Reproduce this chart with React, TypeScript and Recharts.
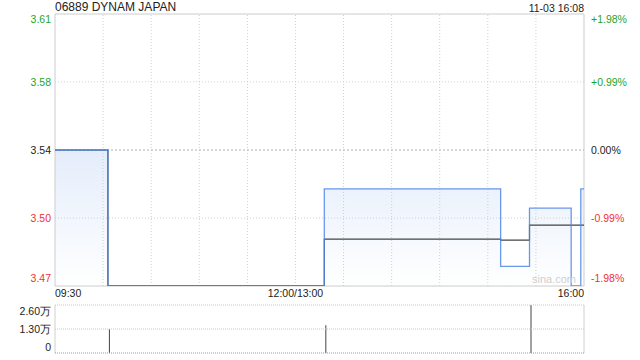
import { ComposedChart, Area, Line, XAxis, YAxis, ReferenceLine, ReferenceArea, BarChart, Bar } from "recharts"

// trading minutes since 09:30 (lunch break removed), 330 = 16:00
const minutes = [0, 33, 168, 278, 296, 322, 328, 330]
const prices = [3.54, 3.47, 3.52, 3.48, 3.51, 3.47, 3.52, 3.52]
const avgPrices = [3.54, 3.47, 3.4941, 3.4935, 3.5013, 3.5013, 3.5013, 3.5013]

const volMinutes = [34, 169, 297]
const volumes = [13000, 15000, 26000]

const priceTicks = [3.4699, 3.5049, 3.54, 3.5751, 3.6101]
const priceLabels = ["3.47", "3.50", "3.54", "3.58", "3.61"]
const pctLabels = ["-1.98%", "-0.99%", "0.00%", "+0.99%", "+1.98%"]
const gridMinutes = [30, 60, 90, 120, 150, 180, 210, 240, 270, 300]
const timeTicks = [0, 150, 330]
const timeLabels = ["09:30", "12:00/13:00", "16:00"]
const volTicks = [0, 13000, 26000]
const volLabels = ["0", "1.30万", "2.60万"]

const W = 640
const LEFT = 55
const RIGHT = 584
const FONT = "'Liberation Sans', Arial, sans-serif"
const GREEN = "#1fa51f"
const RED = "#f23030"

const priceData = minutes.map((t, i) => ({ t, price: prices[i], avg: avgPrices[i] }))
const volData = volMinutes.map((t, i) => ({ t, vol: volumes[i] }))

function tickColor(i: number) {
  if (i === 2) return "#222"
  return i > 2 ? GREEN : RED
}

function PriceTick(props: any) {
  const { y, payload } = props
  const i = priceTicks.indexOf(payload.value)
  // keep edge labels inside the plot box
  const dy = i === 4 ? 9 : i === 0 ? -4 : 4
  return (
    <g>
      <text x={LEFT - 4} y={y + dy} textAnchor="end" fontSize={10.5} fill={tickColor(i)} fontFamily={FONT}>
        {priceLabels[i]}
      </text>
      <text x={RIGHT + 7} y={y + dy} textAnchor="start" fontSize={10.5} fill={tickColor(i)} fontFamily={FONT}>
        {pctLabels[i]}
      </text>
    </g>
  )
}

function TimeTick(props: any) {
  const { x, y, payload } = props
  const i = timeTicks.indexOf(payload.value)
  const anchor = i === 0 ? "start" : i === 2 ? "end" : "middle"
  return (
    <text x={x} y={y + 11} textAnchor={anchor} fontSize={10.5} fill="#222" fontFamily={FONT}>
      {timeLabels[i]}
    </text>
  )
}

function VolTick(props: any) {
  const { y, payload } = props
  const i = volTicks.indexOf(payload.value)
  const dy = i === 2 ? 10 : i === 0 ? -2 : 4
  return (
    <text x={LEFT - 4} y={y + dy} textAnchor="end" fontSize={10.5} fill="#222" fontFamily={FONT}>
      {volLabels[i]}
    </text>
  )
}

export default function App() {
  return (
    <div style={{ position: "absolute", left: 0, top: 0, width: W, height: 360, background: "#fff", fontFamily: FONT }}>
      <div style={{ position: "absolute", left: LEFT, top: 0, fontSize: 12, color: "#222", lineHeight: "14px" }}>
        06889 DYNAM JAPAN
      </div>
      <div style={{ position: "absolute", right: W - RIGHT, top: 1, fontSize: 10.5, color: "#222", lineHeight: "14px" }}>
        11-03 16:08
      </div>

      <div style={{ position: "absolute", left: 0, top: 0 }}>
        <ComposedChart width={W} height={300} data={priceData} margin={{ top: 14, right: W - RIGHT, bottom: 0, left: 0 }}>
          <defs>
            <linearGradient id="priceFill" x1="0" y1="0" x2="0" y2="1">
              <stop offset="0%" stopColor="#e4edfb" />
              <stop offset="100%" stopColor="#ffffff" />
            </linearGradient>
          </defs>
          <XAxis dataKey="t" type="number" domain={[0, 330]} ticks={timeTicks} height={14}
            axisLine={false} tickLine={false} tickSize={0} tickMargin={0} tick={<TimeTick />} interval={0} />
          <YAxis type="number" domain={[priceTicks[0], priceTicks[4]]} ticks={priceTicks} width={LEFT}
            axisLine={false} tickLine={false} tick={<PriceTick />} interval={0} allowDataOverflow />
          {gridMinutes.map((m) => (
            <ReferenceLine key={m} x={m} stroke="#d0d0d0" strokeDasharray="1 2" />
          ))}
          <ReferenceLine y={priceTicks[1]} stroke="#d0d0d0" strokeDasharray="1 2" />
          <ReferenceLine y={priceTicks[3]} stroke="#d0d0d0" strokeDasharray="1 2" />
          <ReferenceLine y={priceTicks[2]} stroke="#b0b0b0" strokeDasharray="2 2" />
          <Area dataKey="price" type="stepAfter" stroke="none" fill="url(#priceFill)" fillOpacity={1}
            isAnimationActive={false} dot={false} activeDot={false} />
          <Line dataKey="avg" type="stepAfter" stroke="#444" strokeWidth={1.2} dot={false} activeDot={false}
            isAnimationActive={false} />
          <Line dataKey="price" type="stepAfter" stroke="#4f86e8" strokeOpacity={0.85} strokeWidth={1.3} dot={false}
            activeDot={false} isAnimationActive={false} />
          <ReferenceArea x1={0} x2={330} y1={priceTicks[0]} y2={priceTicks[4]} fill="none" stroke="#cccccc"
            ifOverflow="visible" />
        </ComposedChart>
      </div>

      <div style={{ position: "absolute", left: 532, top: 272, fontSize: 11, color: "#cfcfcf", lineHeight: "14px" }}>
        sina.com
      </div>

      <div style={{ position: "absolute", left: 0, top: 300 }}>
        <BarChart width={W} height={60} data={volData} margin={{ top: 5, right: W - RIGHT, bottom: 7, left: 0 }}>
          <XAxis dataKey="t" type="number" domain={[0, 330]} hide />
          <YAxis type="number" domain={[0, 26000]} ticks={volTicks} width={LEFT}
            axisLine={false} tickLine={false} tick={<VolTick />} interval={0} />
          <ReferenceLine y={26000} stroke="#c8c8c8" strokeDasharray="1 1" />
          <ReferenceLine y={13000} stroke="#c8c8c8" strokeDasharray="1 1" />
          <ReferenceLine x={0} stroke="#d0d0d0" />
          <ReferenceLine x={330} stroke="#d0d0d0" />
          <Bar dataKey="vol" fill="#444" barSize={1} isAnimationActive={false} />
          <ReferenceLine y={0} stroke="#999" strokeDasharray="1 1" />
        </BarChart>
      </div>
    </div>
  )
}
